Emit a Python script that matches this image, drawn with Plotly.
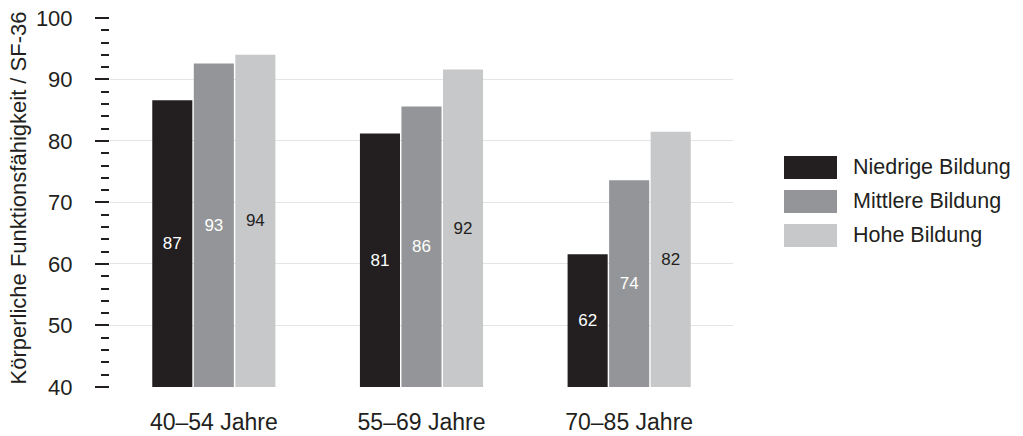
import plotly.graph_objects as go

categories = ["40–54 Jahre", "55–69 Jahre", "70–85 Jahre"]
series_names = ["Niedrige Bildung", "Mittlere Bildung", "Hohe Bildung"]
niedrige = [86.6, 81.2, 61.6]
mittlere = [92.6, 85.6, 73.6]
hohe = [94.0, 91.6, 81.5]
y_ticks = [40, 50, 60, 70, 80, 90, 100]
y_base = 40
y_top = 100.15
y_title = "Körperliche Funktionsfähigkeit / SF-36"

colors = ["#231f20", "#939598", "#c7c8ca"]
text_colors = ["#ffffff", "#ffffff", "#231f20"]
FONT = "Liberation Sans, Arial, sans-serif"
DARK = "#231f20"

FIG_W, FIG_H = 1023, 436
L, R_, B = 110, 733, 387
H = (B - 18) * (y_top - y_base) / 60.0
T = B - H
W = R_ - L


def px(x):
    return (x - L) / W


def py(y):
    return (B - y) / H


fig = go.Figure()
for name, vals, c, tc in zip(series_names, [niedrige, mittlere, hohe], colors, text_colors):
    fig.add_trace(go.Bar(
        x=categories, y=[v - y_base for v in vals], base=y_base, name=name,
        marker=dict(color=c, line=dict(width=0)),
        text=[str(int(v + 0.5)) for v in vals],
        textposition="inside", insidetextanchor="middle",
        textangle=0, constraintext="none",
        textfont=dict(family=FONT, size=17, color=tc),
        showlegend=False, hoverinfo="skip",
    ))

# custom legend (large swatches)
rows = [(156, 179), (190, 213), (224, 247)]
for (t, b), c, name in zip(rows, colors, series_names):
    fig.add_shape(type="rect", xref="paper", yref="paper",
                  x0=px(784), x1=px(837), y0=py(b), y1=py(t),
                  fillcolor=c, line=dict(width=0))
    fig.add_annotation(xref="paper", yref="paper", x=px(851), y=py((t + b) / 2),
                       text=name, showarrow=False, xanchor="left", yanchor="middle",
                       font=dict(family=FONT, size=21.5, color=DARK))

# y-axis title
fig.add_annotation(xref="paper", yref="paper", x=px(18), y=py(198.5),
                   text=y_title, textangle=-90, showarrow=False,
                   xanchor="center", yanchor="middle",
                   font=dict(family=FONT, size=22, color=DARK))

fig.update_layout(
    width=FIG_W, height=FIG_H,
    margin=dict(l=L, r=FIG_W - R_, t=T, b=FIG_H - B, pad=0),
    paper_bgcolor="white", plot_bgcolor="white",
    barmode="group", bargap=0.40, bargroupgap=0.035,
    font=dict(family=FONT, color=DARK),
    xaxis=dict(
        showgrid=False, showline=False, zeroline=False, ticks="",
        tickfont=dict(family=FONT, size=23, color=DARK),
        ticklabelstandoff=19, automargin=False,
    ),
    yaxis=dict(
        range=[y_base, y_top], showgrid=True, gridcolor="#e4e4e4", gridwidth=1,
        zeroline=False, showline=False, automargin=False,
        tickvals=y_ticks, ticks="outside", ticklen=14, tickwidth=2, tickcolor=DARK,
        tickfont=dict(family=FONT, size=22, color=DARK),
        ticklabelstandoff=18,
        minor=dict(dtick=2, tick0=40, ticks="outside", ticklen=8, tickwidth=2,
                   tickcolor=DARK, showgrid=False),
    ),
)

fig.write_html("out.html", config={"displayModeBar": False},
               post_script="document.body.style.margin='0';")
